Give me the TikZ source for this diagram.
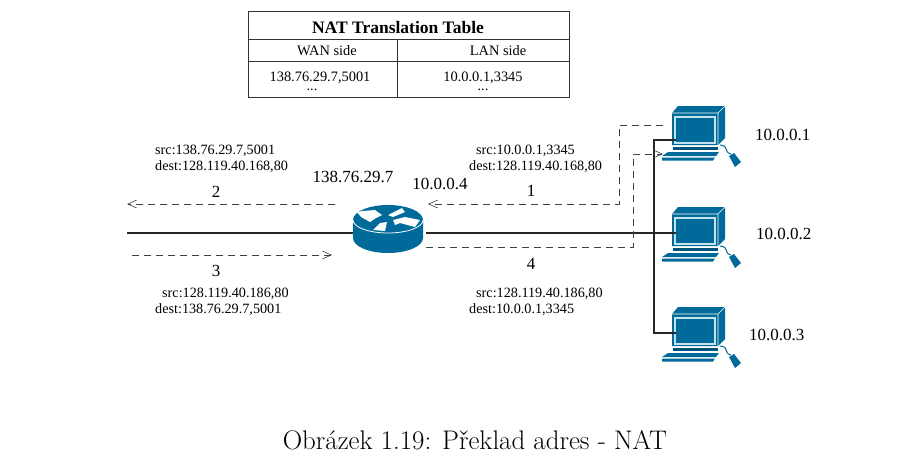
\documentclass[tikz,border=0pt]{standalone}
\usepackage{fontspec}
\setmainfont{Liberation Serif}
\newfontfamily\captionfont{Latin Modern Roman}
\usetikzlibrary{arrows.meta,positioning,calc}
\definecolor{ciscoblue}{HTML}{006A9A}
\definecolor{ciscolight}{HTML}{C5E3EC}
\tikzset{
  link/.style={line width=1.5pt, color=black!85},
  flow/.style={line width=0.6pt, color=black!75, dash pattern=on 7pt off 5pt, -{Straight Barb[length=9pt,width=8pt,line width=0.6pt]}},
  big/.style={font=\fontsize{17}{18}\selectfont, inner sep=0pt},
  small/.style={font=\fontsize{14.2}{15.5}\selectfont, inner sep=0pt, align=left},
  tab/.style={font=\fontsize{14.4}{15}\selectfont, inner sep=0pt},
  pics/computer/.style={code={
    % ecran
    \fill[ciscoblue] (0,0) -- (6,-7) -- (53,-7) -- (53,25) -- (46,32) -- (0,32) -- cycle;
    \draw[white, line width=0.6pt] (0,0) -- (46,0) -- (53,-7) (46,0) -- (46,32);
    \draw[ciscolight, line width=2pt] (3,3.5) rectangle (42.5,30);
    \fill[ciscoblue] (5,5.5) rectangle (40.5,28);
    % pied
    \fill[ciscoblue!80!black] (1,34) rectangle (46,37);
    % clavier
    \fill[ciscoblue] (-4,39) -- (47,39) -- (44,43) -- (-10,43) -- cycle;
    \fill[ciscoblue] (-10,44.5) -- (43,44.5) -- (41,47.5) -- (-10,47.5) -- cycle;
    % souris
    \draw[ciscoblue, line width=1pt] (48,32) .. controls (58,33) and (51,39) .. (59,41);
    \fill[ciscoblue] (57,43) -- (62,40) -- (69,49) -- (63,54) -- cycle;
  }},
  pics/router/.style={code={
    \fill[ciscoblue] (-35,-9) arc (180:360:35 and 15) -- (35,9) arc (0:180:35 and 15) -- cycle;
    \draw[white, line width=0.8pt] (-35,-9) arc (180:0:35 and 13);
    \fill[white] (-31,-17) -- (-25,-18) -- (-13,-19) -- (-6,-14) -- (-12,-11) -- (-18,-7) -- (-27,-12) -- cycle;
    \fill[white] (0,-14) -- (14,-21) -- (17,-17) -- (5,-12) -- cycle;
    \fill[white] (-15,1) -- (-8,-6) -- (-1,-7) -- (-3,2) -- cycle;
    \fill[white] (5,-9) -- (17,-12) -- (32,-9) -- (27,-2) -- (12,-6) -- (7,-4) -- cycle;
  }}
}
\begin{document}
\begin{tikzpicture}[x=1pt,y=-1pt]
\useasboundingbox (0,0) rectangle (908,467);

% table
\draw[line width=0.7pt, color=black!80] (248,11) rectangle (569,97);
\draw[line width=0.7pt, color=black!80] (248,39) -- (569,39);
\draw[line width=0.7pt, color=black!80] (248,61) -- (569,61);
\draw[line width=0.7pt, color=black!80] (397,39) -- (397,97);
\node[tab, font=\fontsize{17.5}{18}\bfseries\selectfont] (title) at (398,28) {NAT Translation Table};
\node[tab] (wan) at (327,50.5) {WAN side};
\node[tab] (lan) at (498,50.5) {LAN side};
\node[tab] (wanaddr) at (320,78) {138.76.29.7,5001};
\node[tab] (lanaddr) at (483,78) {10.0.0.1,3345};
\node[tab] (wandots) at (312,90) {...};
\node[tab] (landots) at (483,90) {...};

% router et postes
\pic at (388,229) {router};
\pic at (672,113) {computer};
\pic at (672,214) {computer};
\pic at (672,314) {computer};

% points
\coordinate (wanend) at (127,233);
\coordinate (routerwan) at (353,233);
\coordinate (routerlan) at (426,233);
\coordinate (pcone) at (676,140);
\coordinate (pctwo) at (676,233);
\coordinate (pcthree) at (676,333);
\coordinate (bus) at (654,233);
\coordinate (outfrom) at (663,125);
\coordinate (outcornerA) at (619,125);
\coordinate (outcornerB) at (619,204);
\coordinate (outto) at (428,204);
\coordinate (infrom) at (426,247);
\coordinate (incornerA) at (633,247);
\coordinate (incornerB) at (633,154);
\coordinate (into) at (663,154);
\coordinate (wanoutfrom) at (335,204);
\coordinate (wanoutto) at (127,204);
\coordinate (waninfrom) at (132,255);
\coordinate (waninto) at (332,255);

% liens
\draw[link] (wanend) -- (routerwan);
\draw[link] (routerlan) -- (pctwo);
\draw[link] (pcone) -| (bus) |- (pcthree);

% flux
\draw[flow] (outfrom) -- (outcornerA) -- (outcornerB) -- (outto);
\draw[flow] (infrom) -- (incornerA) -- (incornerB) -- (into);
\draw[flow] (wanoutfrom) -- (wanoutto);
\draw[flow] (waninfrom) -- (waninto);

% adresses
\node[big] (addrwan) at (353,177) {138.76.29.7};
\node[big] (addrlan) at (440,184) {10.0.0.4};
\node[big, anchor=west] (addrone) at (755,135) {10.0.0.1};
\node[big, anchor=west] (addrtwo) at (756,234) {10.0.0.2};
\node[big, anchor=west] (addrthree) at (749,335) {10.0.0.3};

% numeros
\node[big] (stepone) at (531,191) {1};
\node[big] (steptwo) at (216,192) {2};
\node[big] (stepthree) at (216,271) {3};
\node[big] (stepfour) at (531,264) {4};

% paquets
\node[small, anchor=west] (srctwo) at (155,151) {src:138.76.29.7,5001};
\node[small, anchor=west] (desttwo) at (155,167) {dest:128.119.40.168,80};
\node[small, anchor=west] (srcone) at (476,151) {src:10.0.0.1,3345};
\node[small, anchor=west] (destone) at (469,167) {dest:128.119.40.168,80};
\node[small, anchor=west] (srcthree) at (162,294) {src:128.119.40.186,80};
\node[small, anchor=west] (destthree) at (155,310) {dest:138.76.29.7,5001};
\node[small, anchor=west] (srcfour) at (476,294) {src:128.119.40.186,80};
\node[small, anchor=west] (destfour) at (469,310) {dest:10.0.0.1,3345};

% legende
\node[inner sep=0pt, font=\captionfont\fontsize{26.9}{28}\selectfont] (legend) at (475,440) {Obrázek 1.19: Překlad adres - NAT};
\end{tikzpicture}
\end{document}
